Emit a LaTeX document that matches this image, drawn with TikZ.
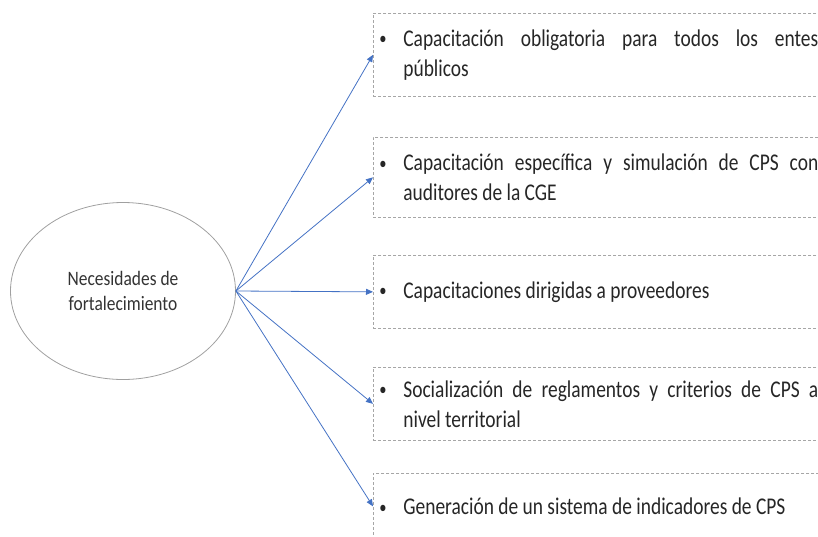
\documentclass[tikz,border=0pt]{standalone}
\usepackage{fontspec}
\setmainfont{Carlito}
\newfontfamily\boxfont[FakeStretch=0.81]{Carlito}
\newfontfamily\ellfont[FakeStretch=0.85]{Carlito}
\usetikzlibrary{arrows.meta,shapes.geometric}
\definecolor{arrowblue}{HTML}{4472C4}
\definecolor{boxgray}{HTML}{A6A6A6}
\definecolor{ellgray}{HTML}{A0A0A0}
\definecolor{txtgray}{HTML}{262626}
\tikzset{
  itembox/.style={draw=boxgray, line width=0.7pt, dash pattern=on 3pt off 2pt,
    anchor=north west, text width=435pt, inner xsep=10pt, inner ysep=0pt,
    align=justify, text=txtgray,
    font=\boxfont\fontsize{24}{30}\selectfont},
  link/.style={draw=arrowblue, line width=0.8pt, -{Triangle[length=7pt,width=6pt]}},
  centre/.style={ellipse, draw=ellgray, line width=0.8pt, minimum width=225pt,
    minimum height=177pt, inner sep=0pt, align=center, text=black!80,
    font=\ellfont\fontsize{20.5}{24.5}\selectfont}
}
\newcommand{\bul}[1]{\hangindent=20pt\hangafter=1\noindent\makebox[20pt][l]{\kern-4pt\raisebox{1.5pt}{\fontsize{18}{18}\selectfont\textbullet}}#1\par}
\begin{document}
\begin{tikzpicture}[x=1pt,y=-1pt]
\useasboundingbox (0,0) rectangle (818,536);
\clip (0,0) rectangle (818,536);
\node[centre] (c) at (123,291) {Necesidades de\\fortalecimiento};
\node[itembox, minimum height=83pt] (b1) at (373,13)
  {\bul{Capacitación obligatoria para todos los entes\linebreak públicos}};
\node[itembox, minimum height=80pt] (b2) at (373,137)
  {\bul{Capacitación específica y simulación de CPS con\linebreak auditores de la CGE}};
\node[itembox, minimum height=73pt] (b3) at (373,255)
  {\bul{Capacitaciones dirigidas a proveedores}};
\node[itembox, minimum height=73pt] (b4) at (373,367)
  {\bul{Socialización de reglamentos y criterios de CPS a\linebreak nivel territorial}};
\node[itembox, minimum height=66pt] (b5) at (373,473)
  {\bul{Generación de un sistema de indicadores de CPS}};
\foreach \b in {b1,b2,b3,b4,b5}
  \draw[link] (c.east) -- (\b.west);
\end{tikzpicture}
\end{document}
